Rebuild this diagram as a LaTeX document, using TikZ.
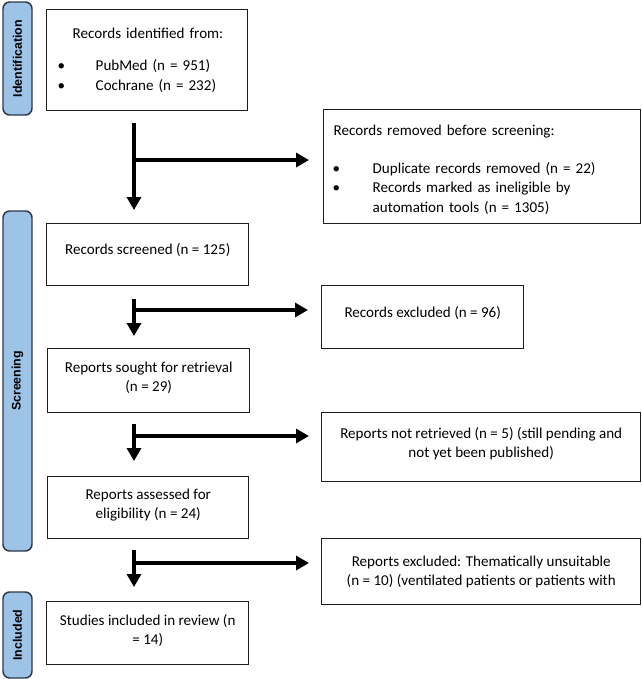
\documentclass[tikz,border=0pt]{standalone}
\usepackage{fontspec}
\setmainfont{Carlito}
\newfontfamily\phasefont{Liberation Sans}
\usepackage{tikz}
\usetikzlibrary{arrows.meta,positioning}
\usepackage{xcolor}
\definecolor{ink}{RGB}{30,30,30}
\definecolor{phaseblue}{RGB}{157,195,230}
\definecolor{phaseedge}{RGB}{45,55,70}
\newdimen\pxu \pxu=0.75pt
\tikzset{
  box/.style={draw=ink,line width=1.1pt,anchor=north west,inner sep=0pt,align=center,font=\fontsize{11.3}{14.6}\selectfont},
  lift/.style={execute at end node={\rule[-#1\pxu]{0pt}{0pt}}},
  phase/.style={draw=phaseedge,fill=phaseblue,rounded corners=5pt,line width=1.1pt,rotate=90,inner sep=0pt,minimum height=29\pxu,font=\phasefont\fontsize{9.3}{11}\selectfont\bfseries},
  flow/.style={-{Triangle[length=9.75pt,width=10.5pt]},line width=3pt},
}

\begin{document}
\begin{tikzpicture}[x=0.75pt,y=-0.75pt]
\useasboundingbox (0,0) rectangle (642,679);
\fill[white] (0,0) rectangle (642,679);
\node[phase, minimum width=113\pxu] (idbar) at (17.5,58.5) {Identification};
\node[phase, minimum width=340\pxu] (scrbar) at (17.5,381) {Screening};
\node[phase, minimum width=86\pxu] (incbar) at (17.5,635) {Included};

\node[box, minimum width=201\pxu, minimum height=101\pxu, text width=201\pxu, align=left] (ident) at (46,9)
  {\hspace*{26\pxu}Records identified from:\\[13\pxu]
   \hspace*{11\pxu}\makebox[38\pxu][l]{\textbullet}PubMed (n = 951)\\
   \hspace*{11\pxu}\makebox[38\pxu][l]{\textbullet}Cochrane (n = 232)};
\node[box, minimum width=317\pxu, minimum height=114\pxu, text width=317\pxu, align=left] (removed) at (323,109)
  {\rule{0pt}{17\pxu}\hspace*{10\pxu}Records removed before screening:\\[18\pxu]
   \hspace*{9\pxu}\makebox[40\pxu][l]{\textbullet}Duplicate records removed (n = 22)\\
   \hspace*{9\pxu}\makebox[40\pxu][l]{\textbullet}Records marked as ineligible by\\
   \hspace*{49\pxu}automation tools (n = 1305)};
\node[box, lift=12, minimum width=202\pxu, minimum height=62\pxu] (screened) at (46,223) {Records screened (n = 125)};
\node[box, lift=10, minimum width=202\pxu, minimum height=63\pxu] (excluded) at (321,285) {Records excluded (n = 96)};
\node[box, lift=8, minimum width=202\pxu, minimum height=64\pxu] (sought) at (47,348) {Reports sought for retrieval\\(n = 29)};
\node[box, lift=10, minimum width=319\pxu, minimum height=69\pxu] (notretr) at (321,412) {Reports not retrieved (n = 5) (still pending and\\not yet been published)};
\node[box, lift=8, minimum width=201\pxu, minimum height=62\pxu] (assessed) at (47,476) {Reports assessed for\\eligibility (n = 24)};
\node[box, minimum width=319\pxu, minimum height=66\pxu] (unsuit) at (321,538) {Reports excluded: Thematically unsuitable\\(n = 10) (ventilated patients or patients with};
\node[box, lift=8, minimum width=202\pxu, minimum height=63\pxu] (studies) at (46,601) {Studies included in review (n\\= 14)};

\coordinate (t1) at (134,123); \coordinate (j1) at (134,160);
\coordinate (t2) at (134,299); \coordinate (j2) at (134,310);
\coordinate (t3) at (134,424); \coordinate (j3) at (134,436);
\coordinate (t4) at (134,550); \coordinate (j4) at (134,563);
\draw[flow, shorten >=9.75pt] (t1) -- (t1 |- screened.north);
\draw[flow, shorten >=10.5pt] (j1) -- (j1 -| removed.west);
\draw[flow, shorten >=9pt] (t2) -- (t2 |- sought.north);
\draw[flow, shorten >=9.75pt] (j2) -- (j2 -| excluded.west);
\draw[flow, shorten >=11.25pt] (t3) -- (t3 |- assessed.north);
\draw[flow, shorten >=9pt] (j3) -- (j3 -| notretr.west);
\draw[flow, shorten >=10.5pt] (t4) -- (t4 |- studies.north);
\draw[flow, shorten >=9pt] (j4) -- (j4 -| unsuit.west);
\end{tikzpicture}
\end{document}
